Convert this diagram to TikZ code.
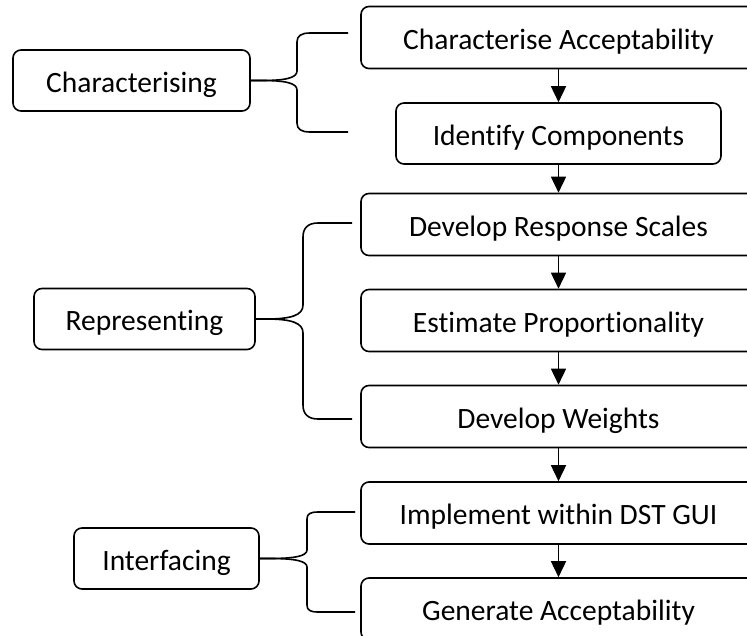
\documentclass[tikz,border=0pt]{standalone}
\usepackage{fontspec}
\setmainfont{Carlito}[Ligatures=NoCommon]
\usetikzlibrary{arrows.meta}
\begin{document}
\begin{tikzpicture}[x=1pt,y=-1pt,
  stage/.style={draw, line width=1.6pt, rounded corners=8pt, fill=white,
                inner sep=0pt, text height=23pt, text depth=0pt,
                font=\fontsize{29.5}{34}\selectfont},
  wide/.style={stage, minimum width=395pt, minimum height=62pt},
  narrow/.style={stage, minimum width=325pt, minimum height=61pt},
  group/.style={stage, minimum height=61pt},
  flow/.style={line width=1.6pt, -{Triangle[length=16pt,width=15pt]}},
  brace/.style={line width=1.6pt, line join=round}]
\useasboundingbox[fill=white] (0,0) rectangle (747,635);
\clip (0,0) rectangle (747,635);

% process steps
\node[wide]   (b1) at (558.5,37.5)  {Characterise Acceptability};
\node[narrow] (b2) at (558.5,133.5) {Identify Components};
\node[wide]   (b3) at (558.5,224.5) {Develop Response Scales};
\node[wide]   (b4) at (558.5,320.5) {Estimate Proportionality};
\node[wide]   (b5) at (558.5,416.5) {Develop Weights};
\node[wide]   (b6) at (558.5,513)   {Implement within DST GUI};
\node[wide]   (b7) at (558.5,609)   {Generate Acceptability};

\foreach \a/\b in {b1/b2,b2/b3,b3/b4,b4/b5,b5/b6,b6/b7}
  \draw[flow] (\a.south) -- (\b.north);

% phase labels
\node[group, minimum width=237pt] (g1) at (131.5,80.5) {Characterising};
\node[group, minimum width=221pt] (g2) at (144.5,319)  {Representing};
\node[group, minimum width=185pt] (g3) at (166.5,558.5) {Interfacing};

% brace ends
\coordinate (t1) at (348,33);  \coordinate (u1) at (348,132);
\coordinate (t2) at (352,223); \coordinate (u2) at (352,419);
\coordinate (t3) at (355,512); \coordinate (u3) at (355,612);

% braces
\draw[brace] (g1.east) -- (262,80.5) .. controls (285,80.5) and (297,78) .. (297,71)
  -- (297,42) .. controls (297,36) and (301,33) .. (310,33) -- (t1);
\draw[brace] (g1.east) -- (262,80.5) .. controls (285,80.5) and (297,83) .. (297,90)
  -- (297,123) .. controls (297,129) and (301,132) .. (310,132) -- (u1);

\draw[brace] (g2.east) -- (266,319) .. controls (292,319) and (303,315) .. (303,305)
  -- (303,237) .. controls (303,228) and (308,223) .. (318,223) -- (t2);
\draw[brace] (g2.east) -- (266,319) .. controls (292,319) and (303,323) .. (303,333)
  -- (303,405) .. controls (303,414) and (308,419) .. (318,419) -- (u2);

\draw[brace] (g3.east) -- (270,558.5) .. controls (295,558.5) and (307,556) .. (307,550)
  -- (307,519) .. controls (307,514) and (310,512) .. (318,512) -- (t3);
\draw[brace] (g3.east) -- (270,558.5) .. controls (295,558.5) and (307,561) .. (307,567)
  -- (307,605) .. controls (307,610) and (310,612) .. (318,612) -- (u3);
\end{tikzpicture}
\end{document}
